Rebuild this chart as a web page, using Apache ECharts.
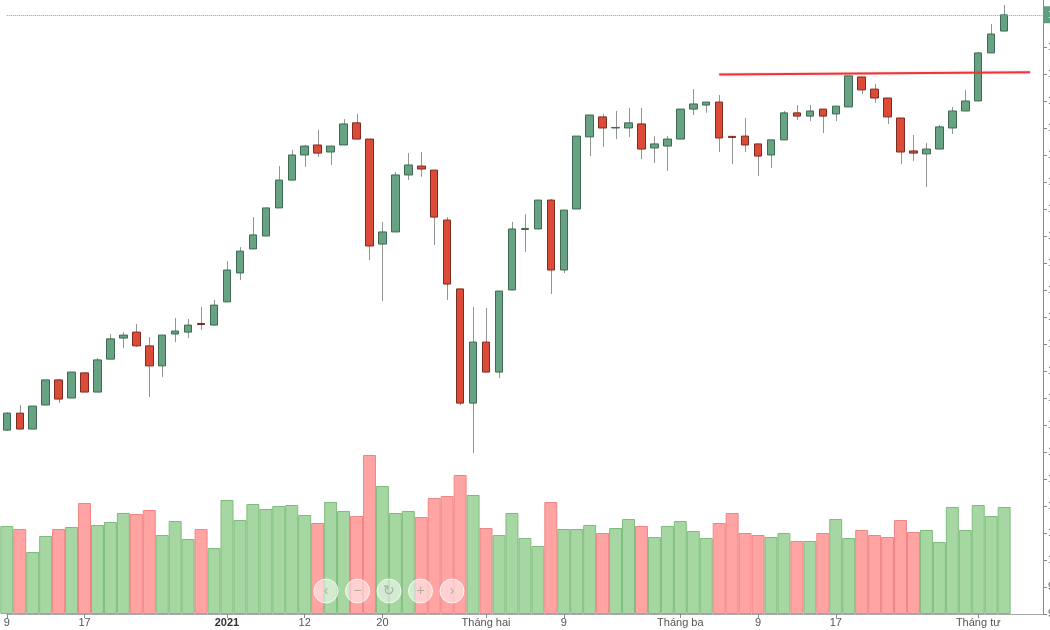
<!DOCTYPE html>
<html>
<head>
<meta charset="utf-8">
<script src="https://cdn.jsdelivr.net/npm/echarts@6/dist/echarts.min.js"></script>
<style>
  html, body { margin: 0; padding: 0; background: #fff; }
  #chart { width: 1050px; height: 630px; }
</style>
</head>
<body>
<div id="chart"></div>
<script>
// trading days, Dec 2020 - Apr 2021
const dates = [
  '2020-12-09', '2020-12-10', '2020-12-11', '2020-12-14', '2020-12-15', '2020-12-16', '2020-12-17', '2020-12-18',
  '2020-12-21', '2020-12-22', '2020-12-23', '2020-12-24', '2020-12-25', '2020-12-28', '2020-12-29', '2020-12-30', '2020-12-31',
  '2021-01-04', '2021-01-05', '2021-01-06', '2021-01-07', '2021-01-08', '2021-01-11', '2021-01-12', '2021-01-13', '2021-01-14',
  '2021-01-15', '2021-01-18', '2021-01-19', '2021-01-20', '2021-01-21', '2021-01-22', '2021-01-25', '2021-01-26', '2021-01-27',
  '2021-01-28', '2021-01-29',
  '2021-02-01', '2021-02-02', '2021-02-03', '2021-02-04', '2021-02-05', '2021-02-08', '2021-02-09', '2021-02-17', '2021-02-18',
  '2021-02-19', '2021-02-22', '2021-02-23', '2021-02-24', '2021-02-25', '2021-02-26',
  '2021-03-01', '2021-03-02', '2021-03-03', '2021-03-04', '2021-03-05', '2021-03-08', '2021-03-09', '2021-03-10', '2021-03-11',
  '2021-03-12', '2021-03-15', '2021-03-16', '2021-03-17', '2021-03-18', '2021-03-19', '2021-03-22', '2021-03-23', '2021-03-24',
  '2021-03-25', '2021-03-26', '2021-03-29', '2021-03-30', '2021-03-31',
  '2021-04-01', '2021-04-02', '2021-04-05'
]
const openP = [
  1048.1, 1054.4, 1048.5, 1057.4, 1066.7, 1060.0, 1069.3, 1062.2, 1074.4, 1082.2, 1084.4, 1079.3, 1071.9, 1083.7, 1084.4, 1087.6,
  1087.0, 1095.6, 1106.3, 1115.2, 1120.0, 1130.4, 1140.7, 1150.0, 1153.7, 1151.1, 1153.7, 1161.9, 1155.9, 1117.0, 1121.5, 1142.6,
  1145.9, 1144.4, 1125.9, 1100.4, 1058.1, 1080.7, 1069.6, 1100.0, 1122.4, 1122.6, 1133.3, 1107.4, 1130.0, 1156.7, 1164.1, 1160.0,
  1160.0, 1161.5, 1152.6, 1153.3, 1155.9, 1167.0, 1168.5, 1169.6, 1156.9, 1157.0, 1154.1, 1150.0, 1155.6, 1165.6, 1164.4, 1167.0,
  1165.2, 1167.8, 1178.9, 1174.4, 1171.1, 1163.7, 1151.5, 1150.4, 1152.2, 1160.0, 1166.3, 1170.0, 1187.8, 1195.9
]
const closeP = [
  1054.4, 1048.5, 1057.0, 1066.7, 1059.6, 1069.6, 1062.2, 1074.1, 1081.9, 1083.3, 1079.3, 1071.9, 1083.3, 1084.8, 1087.0, 1087.2,
  1094.4, 1107.4, 1114.4, 1120.4, 1130.4, 1140.7, 1150.0, 1153.3, 1150.7, 1153.3, 1161.5, 1155.9, 1116.3, 1121.5, 1142.6, 1146.3,
  1144.8, 1127.0, 1102.2, 1058.1, 1080.7, 1069.6, 1099.6, 1122.6, 1122.8, 1133.3, 1107.4, 1129.6, 1157.0, 1164.8, 1160.0, 1160.2,
  1161.9, 1152.2, 1154.1, 1155.9, 1167.0, 1168.9, 1169.6, 1156.3, 1156.5, 1153.7, 1149.6, 1155.6, 1165.6, 1164.4, 1166.3, 1164.4,
  1168.1, 1179.3, 1174.1, 1171.1, 1164.1, 1151.1, 1150.7, 1152.2, 1160.4, 1166.3, 1170.0, 1187.8, 1194.8, 1201.9
]
const lowP = [
  1047.8, 1048.5, 1048.5, 1057.4, 1058.1, 1060.0, 1062.2, 1062.2, 1074.4, 1078.5, 1078.9, 1060.4, 1067.8, 1080.7, 1082.2, 1085.2,
  1087.0, 1095.6, 1103.7, 1115.2, 1120.0, 1130.4, 1140.7, 1145.6, 1149.3, 1146.3, 1153.7, 1155.9, 1111.1, 1095.9, 1121.5, 1140.7,
  1141.9, 1116.7, 1096.3, 1057.4, 1039.6, 1069.6, 1067.4, 1100.0, 1114.1, 1122.6, 1098.5, 1106.3, 1130.0, 1149.6, 1153.0, 1155.9,
  1156.7, 1148.5, 1147.0, 1144.1, 1155.9, 1164.8, 1165.6, 1151.1, 1146.7, 1151.1, 1142.2, 1145.2, 1155.6, 1163.0, 1162.6, 1158.1,
  1162.6, 1167.8, 1172.6, 1169.3, 1161.5, 1146.7, 1147.8, 1138.1, 1152.2, 1157.8, 1166.3, 1170.0, 1187.8, 1195.9
]
const highP = [
  1054.8, 1057.4, 1057.0, 1066.7, 1067.0, 1069.6, 1069.3, 1074.8, 1083.7, 1084.4, 1087.4, 1082.6, 1083.3, 1089.6, 1089.3, 1093.7,
  1096.3, 1110.7, 1115.9, 1127.0, 1130.4, 1145.9, 1151.9, 1153.7, 1159.3, 1153.3, 1163.3, 1165.2, 1155.9, 1125.2, 1143.7, 1150.7,
  1151.1, 1144.4, 1127.0, 1100.4, 1093.7, 1093.3, 1099.6, 1125.2, 1128.1, 1133.3, 1133.7, 1129.6, 1157.0, 1164.8, 1165.2, 1166.3,
  1167.4, 1167.4, 1157.0, 1157.0, 1167.0, 1174.4, 1169.6, 1172.2, 1156.9, 1163.7, 1154.1, 1155.6, 1166.3, 1168.5, 1168.5, 1167.0,
  1168.1, 1179.3, 1178.9, 1176.3, 1171.1, 1163.7, 1157.4, 1154.4, 1161.1, 1167.8, 1174.1, 1188.1, 1198.5, 1205.6
]
const volume = [
  440, 425, 310, 390, 425, 435, 555, 445, 460, 505, 500, 520, 395, 465, 375, 425,
  330, 570, 470, 550, 525, 540, 545, 495, 455, 560, 515, 490, 795, 640, 505, 515,
  485, 580, 590, 695, 595, 430, 395, 505, 380, 340, 560, 425, 425, 445, 405, 430,
  475, 440, 385, 440, 465, 415, 380, 455, 505, 405, 395, 385, 405, 365, 365, 405,
  475, 380, 420, 395, 385, 470, 410, 420, 360, 535, 420, 545, 490, 535
]
const tickDates = ['2020-12-09', '2020-12-17', '2021-01-04', '2021-01-12', '2021-01-20', '2021-02-01',
  '2021-02-09', '2021-03-01', '2021-03-09', '2021-03-17', '2021-04-01']
const tickText = ['9', '17', '2021', '12', '20', 'Tháng hai', '9', 'Tháng ba', '9', '17', 'Tháng tư']

// red resistance line (category index, level)
const resistIdx = [55, 79]
const resistVal = [1179.8, 1180.6]

const padCats = ['p1', 'p2', 'p3']
const cats = dates.concat(padCats)

const wickData = dates.map((d, i) => [i, lowP[i], highP[i]])
const bodyData = dates.map((d, i) => [openP[i], closeP[i], Math.min(openP[i], closeP[i]), Math.max(openP[i], closeP[i])])
const volData = volume.map((v, i) => {
  const up = closeP[i] >= openP[i]
  return {
    value: v,
    itemStyle: up
      ? { color: '#a6d6a1', borderColor: '#7dbd7b', borderWidth: 1 }
      : { color: '#ffa3a3', borderColor: '#f08585', borderWidth: 1 },
  }
})
const resistData = cats.map((c, i) => {
  const k = resistIdx.indexOf(i)
  return k >= 0 ? resistVal[k] : null
})
const lastClose = closeP[closeP.length - 1]

const showTick = (idx, val) => tickDates.indexOf(val) >= 0

const chart = echarts.init(document.getElementById('chart'))

// zoom/scroll buttons overlay
const btns = ['‹', '−', '↻', '+', '›']
const graphics = btns.map((t, i) => ({
  type: 'group',
  x: 314 + i * 31.5,
  y: 579,
  z: 100,
  children: [
    { type: 'circle', z: 100, shape: { cx: 12, cy: 12, r: 12 }, style: { fill: 'rgba(255,255,255,0.5)', stroke: 'rgba(255,255,255,0.8)', lineWidth: 1 } },
    { type: 'text', z: 101, x: 12, y: 12, style: { text: t, fill: 'rgba(150,150,150,0.7)', font: '14px sans-serif', align: 'center', verticalAlign: 'middle' } },
  ],
}))

chart.setOption({
  animation: false,
  backgroundColor: '#fff',
  grid: [
    { left: 6.8, right: 7, top: 0, bottom: 16, outerBoundsMode: 'none', containLabel: false },
    { left: 6.8, right: 7, top: 440, bottom: 16, outerBoundsMode: 'none', containLabel: false },
  ],
  xAxis: [
    {
      type: 'category', gridIndex: 0, data: cats, boundaryGap: false,
      axisLine: { show: false }, axisTick: { show: false }, axisLabel: { show: false }, splitLine: { show: false },
    },
    {
      type: 'category', gridIndex: 1, data: cats, boundaryGap: false,
      axisLine: { lineStyle: { color: '#a8a8a8', width: 1 } },
      axisTick: { interval: showTick, length: 4, lineStyle: { color: '#888' } },
      axisLabel: {
        interval: showTick,
        margin: 3,
        fontSize: 11,
        color: '#555',
        fontFamily: 'Liberation Sans, Arial, sans-serif',
        formatter: (val) => {
          const k = tickDates.indexOf(val)
          if (k < 0) return ''
          return tickText[k] === '2021' ? '{b|2021}' : tickText[k]
        },
        rich: { b: { fontWeight: 'bold', color: '#333', fontSize: 11 } },
      },
      splitLine: { show: false },
    },
  ],
  yAxis: [
    {
      type: 'value', gridIndex: 0, position: 'right', min: 980, max: 1207.4, interval: 10,
      splitLine: { show: false },
      axisLine: { show: true, lineStyle: { color: '#888' } },
      axisTick: { show: true, length: 4, lineStyle: { color: '#888' } },
      axisLabel: { margin: 5, fontSize: 11, color: '#555', showMaxLabel: false },
    },
    { type: 'value', gridIndex: 1, min: 0, max: 870, show: false },
  ],
  graphic: { elements: graphics },
  series: [
    {
      name: 'wick',
      type: 'custom',
      xAxisIndex: 0, yAxisIndex: 0,
      data: wickData,
      encode: { x: 0, y: [1, 2] },
      clip: false,
      silent: true,
      z: 2,
      renderItem: (params, api) => {
        const idx = api.value(0)
        const lo = api.coord([idx, api.value(1)])
        const hi = api.coord([idx, api.value(2)])
        const x = Math.round(lo[0]) + 0.5
        return {
          type: 'line',
          shape: { x1: x, y1: lo[1], x2: x, y2: hi[1] },
          style: { stroke: '#959595', lineWidth: 1 },
        }
      },
    },
    {
      name: 'price',
      type: 'candlestick',
      xAxisIndex: 0, yAxisIndex: 0,
      data: bodyData,
      barWidth: 8,
      clip: false,
      itemStyle: { color: '#67a283', color0: '#db4b37', borderColor: '#3c6a52', borderColor0: '#7e2b20', borderWidth: 1 },
      markLine: {
        silent: true,
        symbol: 'none',
        lineStyle: { type: 'dotted', color: '#6fa9a4', width: 1 },
        label: {
          position: 'end', distance: 1, color: '#fff', backgroundColor: '#5e9e7e',
          padding: [3, 4], fontSize: 11, formatter: (p) => p.value.toFixed(2),
        },
        data: [{ yAxis: lastClose }],
      },
      z: 3,
    },
    {
      name: 'resistance',
      type: 'line',
      xAxisIndex: 0, yAxisIndex: 0,
      data: resistData,
      connectNulls: true,
      symbol: 'none',
      silent: true,
      lineStyle: { color: '#e8383b', width: 2, shadowColor: 'rgba(232,56,59,0.4)', shadowBlur: 2 },
      z: 4,
    },
    {
      name: 'volume',
      type: 'bar',
      xAxisIndex: 1, yAxisIndex: 1,
      data: volData,
      barWidth: '100%',
      clip: false,
      z: 1,
    },
  ],
})
</script>
</body>
</html>
